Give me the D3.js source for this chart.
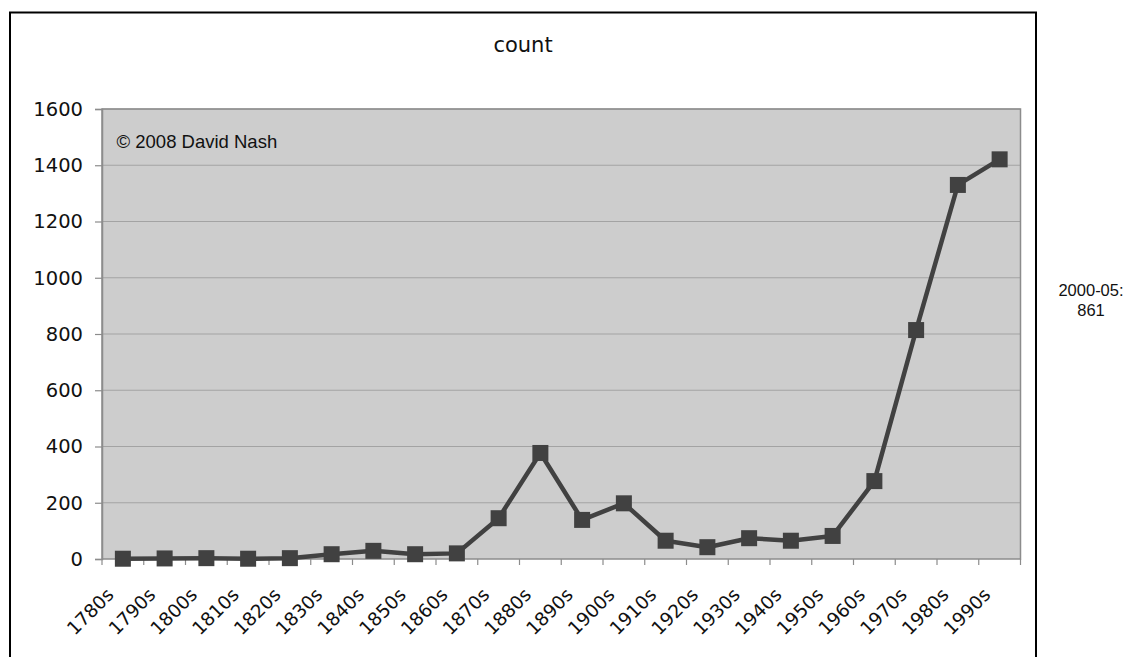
<!DOCTYPE html>
<html>
<head>
<meta charset="utf-8">
<script src="https://cdn.jsdelivr.net/npm/d3@7"></script>
<style>
  html, body { margin: 0; padding: 0; background: #fff; }
  svg { display: block; }
</style>
</head>
<body>
<svg id="chart" width="1129" height="657"></svg>
<script>
// Decades and the count for each decade
const decades = ["1780s","1790s","1800s","1810s","1820s","1830s","1840s","1850s","1860s","1870s",
                 "1880s","1890s","1900s","1910s","1920s","1930s","1940s","1950s","1960s","1970s",
                 "1980s","1990s"];
const counts = [1, 2, 3, 1, 3, 17, 29, 17, 20, 145,
                377, 139, 198, 65, 42, 74, 65, 82, 277, 814,
                1330, 1421];
const yTicks = [0, 200, 400, 600, 800, 1000, 1200, 1400, 1600];
const titleText = "count";
const creditText = "© 2008 David Nash";
const noteLines = ["2000-05:", "861"];

const svg = d3.select("#chart");
const plot = { left: 102, top: 109, right: 1020.5, bottom: 559 };

// Outer frame
svg.append("rect")
  .attr("x", 10).attr("y", 12.5)
  .attr("width", 1026).attr("height", 700)
  .attr("fill", "none").attr("stroke", "#000").attr("stroke-width", 2);

const x = d3.scaleBand().domain(decades).range([plot.left, plot.right]).padding(0);
const y = d3.scaleLinear().domain([0, 1600]).range([plot.bottom, plot.top]);

// Plot area background
svg.append("rect")
  .attr("x", plot.left).attr("y", plot.top)
  .attr("width", plot.right - plot.left).attr("height", plot.bottom - plot.top)
  .attr("fill", "#cdcdcd");

// Horizontal gridlines
svg.append("g").selectAll("line")
  .data(yTicks.filter(d => d > 0))
  .join("line")
  .attr("x1", plot.left).attr("x2", plot.right)
  .attr("y1", d => y(d)).attr("y2", d => y(d))
  .attr("stroke", "#a3a3a3").attr("stroke-width", 1.2);

// Plot border
svg.append("rect")
  .attr("x", plot.left).attr("y", plot.top)
  .attr("width", plot.right - plot.left).attr("height", plot.bottom - plot.top)
  .attr("fill", "none").attr("stroke", "#8c8c8c").attr("stroke-width", 1.5);

// Y axis
const yAxis = svg.append("g")
  .attr("transform", `translate(${plot.left},0)`)
  .call(d3.axisLeft(y).tickValues(yTicks).tickSize(7).tickPadding(12).tickFormat(d3.format("d")));
yAxis.select(".domain").attr("stroke", "#8c8c8c").attr("stroke-width", 1.5);
yAxis.selectAll(".tick line").attr("stroke", "#8c8c8c").attr("stroke-width", 1.2);
yAxis.selectAll(".tick text")
  .attr("font-family", "DejaVu Sans, Verdana, sans-serif")
  .attr("font-size", 19.5).attr("fill", "#111");

// X axis: ticks sit on band boundaries, labels at band centres
const bounds = decades.map(d => x(d)).concat([plot.right]);
svg.append("g").selectAll("line")
  .data(bounds)
  .join("line")
  .attr("x1", d => d).attr("x2", d => d)
  .attr("y1", plot.bottom).attr("y2", plot.bottom + 6)
  .attr("stroke", "#8c8c8c").attr("stroke-width", 1.2);

svg.append("g").selectAll("text")
  .data(decades)
  .join("text")
  .attr("transform", d => `translate(${x(d) + x.bandwidth() / 2 - 8},${plot.bottom + 37}) rotate(-45)`)
  .attr("text-anchor", "end")
  .attr("font-family", "DejaVu Sans, Verdana, sans-serif")
  .attr("font-size", 18.5).attr("fill", "#111")
  .text(d => d);

// Title
svg.append("text")
  .attr("x", 523).attr("y", 51.5)
  .attr("text-anchor", "middle")
  .attr("font-family", "DejaVu Sans, Verdana, sans-serif")
  .attr("font-size", 21).attr("fill", "#111")
  .text(titleText);

// Credit inside the plot area
svg.append("text")
  .attr("x", 116.5).attr("y", 148)
  .attr("font-family", "Liberation Sans, Arial, sans-serif")
  .attr("font-size", 18.5).attr("fill", "#111")
  .text(creditText);

// Note to the right of the plot, two separate lines
svg.append("g").selectAll("text")
  .data(noteLines)
  .join("text")
  .attr("x", 1091)
  .attr("y", (d, i) => 296 + i * 19.5)
  .attr("text-anchor", "middle")
  .attr("font-family", "Liberation Sans, Arial, sans-serif")
  .attr("font-size", 16.5).attr("fill", "#111")
  .text(d => d);

// Series line
const cx = d => x(d) + x.bandwidth() / 2;
svg.append("path")
  .datum(decades.map((d, i) => [cx(d), y(counts[i])]))
  .attr("d", d3.line())
  .attr("fill", "none")
  .attr("stroke", "#414141")
  .attr("stroke-width", 4.5)
  .attr("stroke-linejoin", "round");

// Square markers
const ms = 16;
svg.append("g").selectAll("rect")
  .data(decades)
  .join("rect")
  .attr("x", d => cx(d) - ms / 2)
  .attr("y", (d, i) => y(counts[i]) - ms / 2)
  .attr("width", ms).attr("height", ms)
  .attr("fill", "#414141");
</script>
</body>
</html>
